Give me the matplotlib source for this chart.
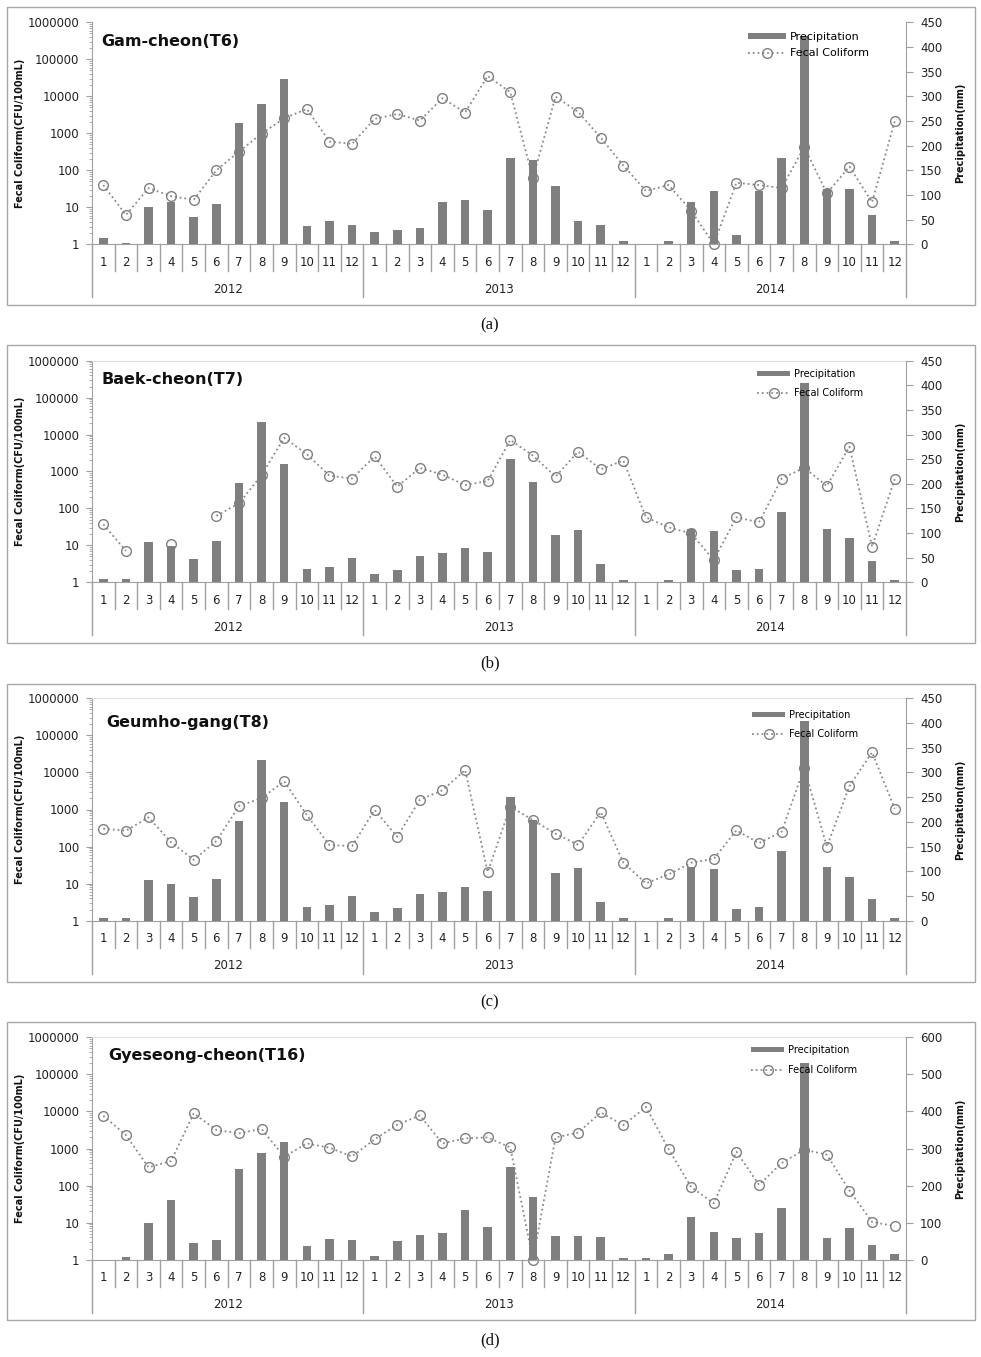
import numpy as np
import matplotlib
matplotlib.use("Agg")
import matplotlib.pyplot as plt
from matplotlib.patches import Rectangle
from matplotlib.ticker import LogLocator, NullFormatter

plt.rcParams['font.family'] = ['DejaVu Sans']

# ---- data ----
months = [str(m) for m in range(1, 13)] * 3
years = ['2012', '2013', '2014']
titles = ['Gam-cheon(T6)', 'Baek-cheon(T7)', 'Geumho-gang(T8)', 'Gyeseong-cheon(T16)']
panel_labels = ['(a)', '(b)', '(c)', '(d)']

# precipitation (mm), right axis
precip_t6 = [13.5, 3, 76, 85, 55, 82, 245, 285, 335, 36.5, 47, 38.5,
             24, 28, 34, 86.5, 90.5, 70, 175, 170, 118, 47, 38.5, 7.5,
             0, 7.5, 85, 108, 18, 108, 175, 422, 112, 112, 60, 7.5]
precip_t7 = [6, 6, 82, 74.5, 48, 84, 201, 326, 241, 27, 32, 50,
             17, 25, 54, 59, 69, 61, 250, 203, 97, 107, 38, 5,
             0, 5, 109, 105, 24, 28, 142, 404, 109, 89, 44, 5]
precip_t8 = precip_t7  # same rain gauge series
precip_t16 = [0, 6, 99, 160, 45, 53, 244, 289, 317, 38, 57, 53,
              10, 51, 67.5, 71, 135, 88, 249, 168, 63, 63, 60, 3.6,
              3.6, 15, 116, 74, 58, 71, 139, 532, 58, 85, 40, 15]

# fecal coliform (CFU/100mL), left log axis
fc_t6 = [40, 6.2, 33, 20, 16, 100, 320, 980, 2550, 4550, 600, 515,
         2450, 3330, 2200, 8900, 3640, 35500, 12800, 61, 9800, 3780, 765, 134,
         27.6, 40, 8.1, 1.0, 46, 40, 33, 427, 24, 126, 13.7, 2100]
fc_t7 = [37, 7.1, np.nan, 10.7, np.nan, 63, 137, 805, 8200, 2930, 775, 640,
         2570, 390, 1250, 820, 430, 550, 7140, 2700, 725, 3450, 1150, 1970,
         57.5, 30.8, 21, 4.0, 57.5, 42, 640, 1270, 406, 4700, 9.2, 625]
fc_t8 = [304, 268, 614, 130, 44, 141, 1240, 2040, 5730, 710, 110, 103,
         970, 184, 1830, 3300, 11600, 20.5, 1200, 520, 222, 112, 855, 36.6,
         10.2, 17.8, 36.6, 47, 273, 124, 252, 13400, 99, 4300, 34800, 1050]
fc_t16 = [7650, 2300, 310, 460, 8880, 3160, 2560, 3370, 600, 1370, 1050, 610,
          1770, 4370, 7800, 1370, 1880, 1990, 1070, 1.0, 1990, 2690, 9380, 4270,
          13200, 960, 91, 33, 820, 105, 405, 930, 680, 73, 10.4, 8.1]

precip_all = [precip_t6, precip_t7, precip_t8, precip_t16]
fc_all = [fc_t6, fc_t7, fc_t8, fc_t16]
precip_max = [450, 450, 450, 600]
precip_step = [50, 50, 50, 100]

# ---- layout in pixels ----
W, H = 981, 1357
frames = [(7, 305), (345, 643), (684, 982), (1022, 1320)]
plot_y = [(22.3, 244.3), (360.7, 582.3), (698.3, 920.7), (1037.3, 1259.7)]
title_dy = [19.4, 18.6, 24, 18.4]
title_x = [101.7, 101.7, 106, 108]
leg_xy = [(748, 32), (757, 369), (752, 710), (751, 1045)]
leg_fs = [8, 7, 7, 7]
leg_sp = [0.55, 0.95, 0.95, 1.05]
label_y = [325, 663, 1002, 1340]
x0, x1 = 92, 906

fig = plt.figure(figsize=(W / 100, H / 100), dpi=100)
bar_color = '#7f7f7f'
axis_color = '#a0a0a0'
text_color = '#222222'
x = np.arange(36)

for i in range(4):
    yt, yb = plot_y[i]
    ah = yb - yt
    ax = fig.add_axes([x0 / W, 1 - yb / H, (x1 - x0) / W, ah / H])
    ax2 = ax.twinx()

    # fecal coliform line (left, log)
    ln, = ax.plot(x, fc_all[i], linestyle=':', color='#8a8a8a', lw=1.3,
                  marker='o', markersize=7, markerfacecolor='none',
                  markeredgecolor='#808080', markeredgewidth=1.0,
                  label='Fecal Coliform', clip_on=False)
    ax.set_yscale('log')
    ax.set_ylim(1, 1e6)
    ax.set_xlim(-0.5, 35.5)
    ax.set_yticks([10 ** k for k in range(7)])
    ax.set_yticklabels([str(10 ** k) for k in range(7)])
    ax.yaxis.set_minor_locator(LogLocator(base=10, subs=np.arange(2, 10)))
    ax.yaxis.set_minor_formatter(NullFormatter())
    ax.tick_params(axis='y', which='major', direction='out', length=4,
                   color=axis_color, labelsize=8.5, labelcolor=text_color, pad=5)
    ax.tick_params(axis='y', which='minor', direction='out', length=2.5,
                   color=axis_color)
    ax.set_xticks([])
    ax.spines['right'].set_visible(False)
    ax.spines['left'].set_color(axis_color)
    ax.spines['bottom'].set_color(axis_color)
    if i == 0:
        ax.spines['top'].set_visible(False)
    else:
        ax.spines['top'].set_color('#dedede')

    # precipitation bars (right, linear)
    bars = ax2.bar(x, precip_all[i], width=0.38, color=bar_color, label='Precipitation')
    ax2.set_ylim(0, precip_max[i])
    ax2.set_yticks(np.arange(0, precip_max[i] + 1, precip_step[i]))
    ax2.tick_params(axis='y', direction='out', length=5, color=axis_color,
                    labelsize=8.5, labelcolor=text_color, pad=5)
    for s in ['top', 'left', 'bottom']:
        ax2.spines[s].set_visible(False)
    ax2.spines['right'].set_color(axis_color)

    # category axis: months and years
    tr = ax.get_xaxis_transform()
    px = 1.0 / ah
    for k in range(37):
        depth = 53 if k % 12 == 0 else 27
        ax.plot([k - 0.5, k - 0.5], [0, -depth * px], color=axis_color,
                lw=1, transform=tr, clip_on=False)
    for k, m in enumerate(months):
        ax.text(k, -18 * px, m, ha='center', va='center', fontsize=8.5,
                color=text_color, transform=tr)
    for j, yr in enumerate(years):
        ax.text(12 * j + 5.5, -45 * px, yr, ha='center', va='center',
                fontsize=8.5, color=text_color, transform=tr)

    ax.text((title_x[i] - x0) / (x1 - x0), 1 - title_dy[i] / ah, titles[i],
            ha='left', va='center', fontsize=11.5, fontweight='bold',
            color='#111111', transform=ax.transAxes)

    lx, ly = leg_xy[i]
    ax2.legend([bars, ln], ['Precipitation', 'Fecal Coliform'],
               loc='upper left',
               bbox_to_anchor=((lx - x0) / (x1 - x0), 1 - (ly - yt) / ah),
               frameon=False, fontsize=leg_fs[i], borderpad=0, borderaxespad=0,
               handlelength=3.4, handleheight=0.45, handletextpad=0.4,
               labelspacing=leg_sp[i], numpoints=1)

    yc = 1 - (yt + yb) / 2 / H
    fig.text(20 / W, yc, 'Fecal Coliform(CFU/100mL)', rotation=90,
             ha='center', va='center', fontsize=7, fontweight='bold', color='#111111')
    fig.text(960 / W, yc, 'Precipitation(mm)', rotation=90,
             ha='center', va='center', fontsize=7, fontweight='bold', color='#111111')

    ft, fb = frames[i]
    fig.patches.append(Rectangle((7 / W, 1 - fb / H), (975 - 7) / W, (fb - ft) / H,
                                 transform=fig.transFigure, fill=False,
                                 edgecolor='#a8a8a8', lw=1))
    fig.text(490 / W, 1 - label_y[i] / H, panel_labels[i], ha='center',
             va='center', fontsize=12, family=['Liberation Serif'], color='#111111')

fig.savefig('out.png', dpi=100)
